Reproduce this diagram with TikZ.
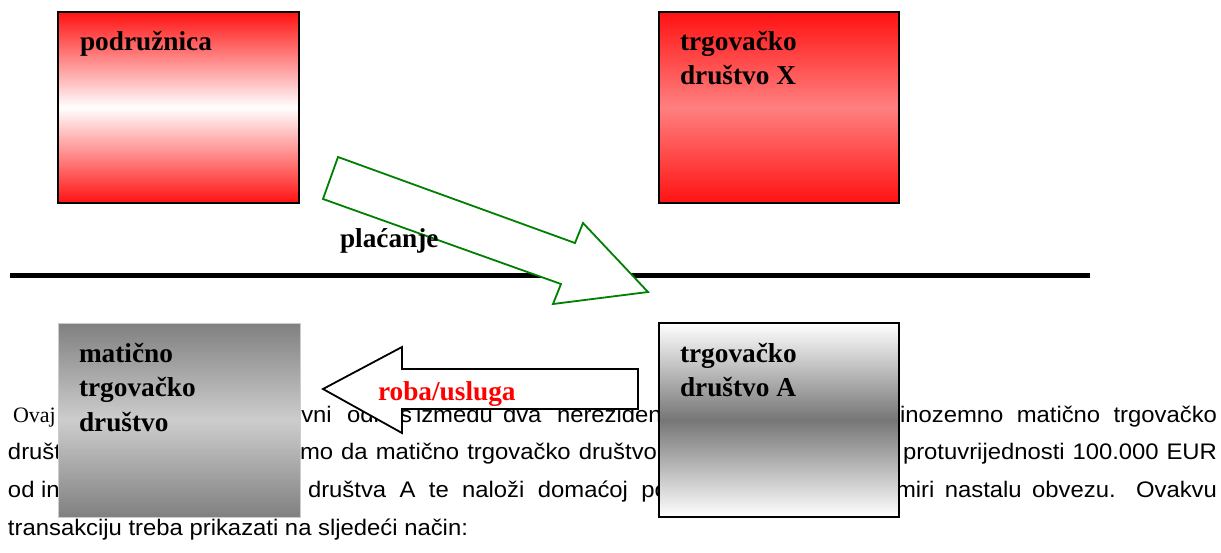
\documentclass[tikz,border=0pt]{standalone}
\usepackage{fontspec}
\setmainfont{Liberation Serif}
\newfontfamily\arialf{Liberation Sans}
\usepackage{graphicx}
\definecolor{boxred}{RGB}{255,18,18}
\definecolor{pinkred}{RGB}{255,128,128}
\definecolor{gdark}{RGB}{128,128,128}
\definecolor{glight}{RGB}{205,205,205}
\definecolor{gmid}{RGB}{118,118,118}
\definecolor{arrowgreen}{RGB}{0,128,0}
\definecolor{labelred}{RGB}{255,0,0}
\newcommand{\bodyfont}{\arialf\fontsize{22.5}{27}\selectfont}
\newcommand{\btext}[1]{\scalebox{1.06}[1]{\bodyfont #1}}
\newcommand{\jtext}[2]{\scalebox{1.06}[1]{\makebox[#1][s]{\bodyfont #2}}}
\tikzset{
  body/.style={anchor=base west, inner sep=0pt, outer sep=0pt},
  lbl/.style={anchor=base west, inner sep=0pt, outer sep=0pt,
    font=\fontsize{27.3}{34.5}\selectfont\bfseries},
  boxbase/.style={anchor=north west, inner sep=0pt, outer sep=0pt},
  redbox/.style={boxbase, draw=black, line width=2pt,
    top color=boxred, bottom color=boxred, middle color=white},
  pinkbox/.style={boxbase, draw=black, line width=2pt,
    top color=boxred, bottom color=boxred, middle color=pinkred},
  greybox/.style={boxbase, draw=gray!40, line width=0.8pt,
    top color=gdark, bottom color=gdark, middle color=glight},
  whitebox/.style={boxbase, draw=black, line width=1.6pt,
    top color=white, bottom color=white, middle color=gmid},
  greenarrow/.style={draw=arrowgreen, fill=white, line width=1.8pt, line join=miter},
  blackarrow/.style={draw=black, fill=white, line width=1.8pt, line join=miter},
  sepline/.style={line width=5pt}
}
\begin{document}
\begin{tikzpicture}[x=1pt,y=-1pt]
\useasboundingbox[fill=white] (0,0) rectangle (1221,552);

% body text (partly covered)
\node[body] (t1a) at (13,422) {\fontsize{22}{26}\selectfont Ovaj};
\node[body] (t1b) at (288,422) {\btext{ovni}};
\node[body] (t1c) at (347,422) {\btext{odnos}};
\node[body] (t1d) at (416,422) {\btext{između}};
\node[body] (t1e) at (503,422) {\btext{dva}};
\node[body] (t1f) at (557,422) {\btext{nerezidenta}};
\node[body] (t1g) at (900,422) {\jtext{299.1pt}{inozemno matično trgovačko}};

\node[body] (t2a) at (8,459) {\btext{društvo}};
\node[body] (t2b) at (300,459) {\jtext{336.8pt}{mo da matično trgovačko društvo}};
\node[body] (t2c) at (903,459) {\jtext{296.2pt}{protuvrijednosti 100.000 EUR}};

\node[body] (t3a) at (8,497) {\btext{od in}};
\node[body] (t3b) at (308,497) {\jtext{339.6pt}{društva A te naloži domaćoj po}};
\node[body] (t3c) at (896,497) {\jtext{302.8pt}{miri nastalu obvezu. Ovakvu}};

\node[body] (t4a) at (8,535) {\btext{transakciju treba prikazati na sljedeći način:}};

% separating line
\coordinate (lineL) at (10,275);
\coordinate (lineR) at (1090,275);
\draw[sepline] (lineL) -- (lineR);

% payment arrow
\draw[greenarrow] (338,157) -- (575,243) -- (583,223) -- (648,292)
  -- (553,304) -- (561,284) -- (323,199) -- cycle;
\node[lbl] (plac) at (340,247) {plaćanje};

% goods arrow
\draw[blackarrow] (323,389) -- (402,347) -- (402,369) -- (638,369)
  -- (638,409) -- (402,409) -- (402,433) -- cycle;
\node[lbl, text=labelred] (roba) at (378,400) {roba/usluga};

% boxes
\node[redbox, minimum width=241pt, minimum height=191pt] (pod) at (58,12) {};
\node[pinkbox, minimum width=240pt, minimum height=191pt] (dx) at (659,12) {};
\node[greybox, minimum width=242pt, minimum height=194pt] (mat) at (58,323) {};
\node[whitebox, minimum width=240pt, minimum height=194pt] (da) at (659,323) {};

\node[lbl] (podl) at (80,50) {podružnica};
\node[lbl] (dxl) at (680,50) {\parbox[t]{200pt}{\raggedright trgovačko\\društvo X}};
\node[lbl] (matl) at (79,362) {\parbox[t]{200pt}{\raggedright matično\\trgovačko\\društvo}};
\node[lbl] (dal) at (680,362) {\parbox[t]{200pt}{\raggedright trgovačko\\društvo A}};
\end{tikzpicture}
\end{document}
